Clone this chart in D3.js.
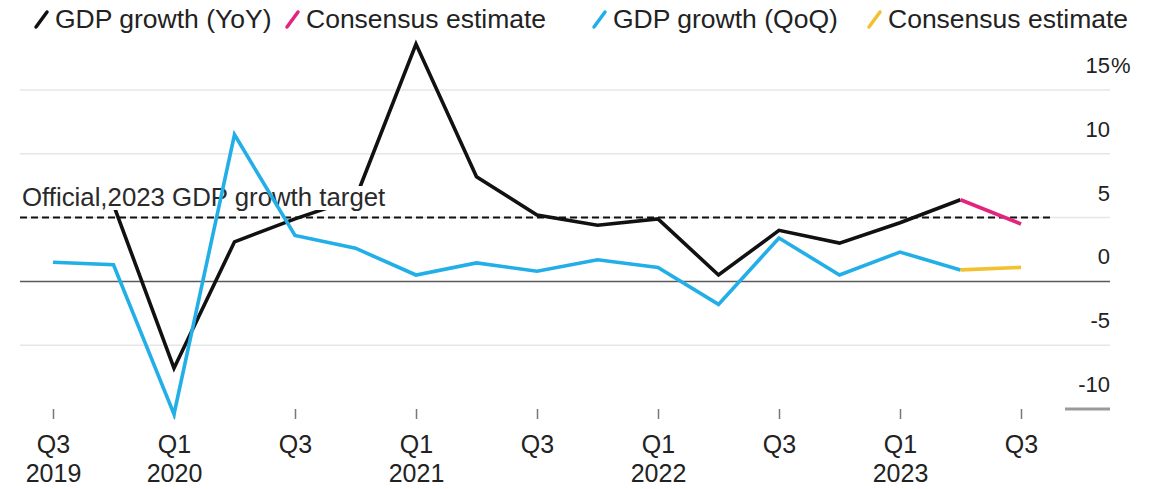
<!DOCTYPE html>
<html>
<head>
<meta charset="utf-8">
<script src="https://cdn.jsdelivr.net/npm/d3@7"></script>
<style>
  html, body { margin: 0; padding: 0; background: #fff; }
  svg { display: block; font-family: "Liberation Sans", Arial, Helvetica, sans-serif; }
</style>
</head>
<body>
<svg id="chart" width="1163" height="489"></svg>
<script>
// Quarters from Q3 2019 to Q3 2023
const quarters = ["2019Q3","2019Q4","2020Q1","2020Q2","2020Q3","2020Q4","2021Q1","2021Q2","2021Q3","2021Q4","2022Q1","2022Q2","2022Q3","2022Q4","2023Q1","2023Q2","2023Q3"];

// Year-on-year growth, % (starts at Q4 2019)
const yoyQuarters = ["2019Q4","2020Q1","2020Q2","2020Q3","2020Q4","2021Q1","2021Q2","2021Q3","2021Q4","2022Q1","2022Q2","2022Q3","2022Q4","2023Q1","2023Q2"];
const yoyValues   = [6.0, -6.8, 3.1, 4.9, 6.5, 18.6, 8.2, 5.2, 4.4, 4.9, 0.5, 4.0, 3.0, 4.6, 6.4];

// Consensus estimate for year-on-year growth
const yoyEstQuarters = ["2023Q2","2023Q3"];
const yoyEstValues   = [6.4, 4.5];

// Quarter-on-quarter growth, %
const qoqQuarters = ["2019Q3","2019Q4","2020Q1","2020Q2","2020Q3","2020Q4","2021Q1","2021Q2","2021Q3","2021Q4","2022Q1","2022Q2","2022Q3","2022Q4","2023Q1","2023Q2"];
const qoqValues   = [1.5, 1.3, -10.4, 11.5, 3.6, 2.6, 0.5, 1.45, 0.8, 1.7, 1.1, -1.8, 3.4, 0.5, 2.3, 0.9];

// Consensus estimate for quarter-on-quarter growth
const qoqEstQuarters = ["2023Q2","2023Q3"];
const qoqEstValues   = [0.9, 1.1];

// Official target
const targetValue = 5.0;
const targetLabel = "Official,2023 GDP growth target";

// Axis ticks
const yTicks = [-10, -5, 0, 5, 10, 15];
const xTickQuarters = ["2019Q3","2020Q1","2020Q3","2021Q1","2021Q3","2022Q1","2022Q3","2023Q1","2023Q3"];
const xTickTop    = ["Q3","Q1","Q3","Q1","Q3","Q1","Q3","Q1","Q3"];
const xTickBottom = ["2019","2020","","2021","","2022","","2023",""];

// Legend entries
const legendLabels = ["GDP growth (YoY)", "Consensus estimate", "GDP growth (QoQ)", "Consensus estimate"];
const legendColors = ["#111111", "#e3247f", "#22afe8", "#f2c12e"];
const legendX = [55, 306, 613, 888];

const svg = d3.select("#chart");

const x = d3.scalePoint().domain(quarters).range([53, 1021]);
const y = d3.scaleLinear().domain([-10, 15]).range([409, 90]);

const gridLeft = 20, gridRight = 1110;

// Horizontal gridlines
svg.append("g")
  .selectAll("line")
  .data(yTicks.filter(d => d !== 0 && d !== -10))
  .join("line")
  .attr("x1", gridLeft).attr("x2", gridRight)
  .attr("y1", d => y(d)).attr("y2", d => y(d))
  .attr("stroke", "#e6e6e6").attr("stroke-width", 1.5);

// Bottom axis marker at -10
svg.append("line")
  .attr("x1", 1065).attr("x2", gridRight)
  .attr("y1", y(-10)).attr("y2", y(-10))
  .attr("stroke", "#9a9a9a").attr("stroke-width", 3);

// Zero line
svg.append("line")
  .attr("x1", gridLeft).attr("x2", gridRight)
  .attr("y1", y(0)).attr("y2", y(0))
  .attr("stroke", "#5a5a5a").attr("stroke-width", 1.5);

// Right-hand value labels
const yAxis = d3.axisRight(y).tickValues(yTicks).tickSize(0).tickPadding(0)
  .tickFormat(d => d);
const yAxisG = svg.append("g").attr("transform", `translate(${gridRight},0)`).call(yAxis);
yAxisG.select(".domain").remove();
yAxisG.selectAll("text")
  .attr("text-anchor", "end")
  .attr("x", 0)
  .attr("dy", "-0.8em")
  .attr("font-size", 22)
  .attr("font-family", "Liberation Sans, Arial, sans-serif")
  .attr("fill", "#222");
yAxisG.selectAll(".tick").filter(d => d === 15).append("text")
  .text("%")
  .attr("x", 1)
  .attr("dy", "-0.8em")
  .attr("text-anchor", "start")
  .attr("font-size", 22)
  .attr("fill", "#222");

// Bottom quarter ticks and labels
const xAxis = d3.axisBottom(x).tickValues(xTickQuarters).tickSize(10).tickPadding(0).tickFormat("");
const xAxisG = svg.append("g").attr("transform", "translate(0,409)").call(xAxis);
xAxisG.select(".domain").remove();
xAxisG.selectAll(".tick line").attr("stroke", "#777").attr("stroke-width", 1.5);
xAxisG.selectAll(".tick").each(function(d, i) {
  const g = d3.select(this);
  g.append("text").text(xTickTop[i])
    .attr("y", 44).attr("text-anchor", "middle")
    .attr("font-size", 25).attr("fill", "#222");
  g.append("text").text(xTickBottom[i])
    .attr("y", 73).attr("text-anchor", "middle")
    .attr("font-size", 25).attr("fill", "#222");
});

// Target line
svg.append("line")
  .attr("x1", gridLeft).attr("x2", 1050)
  .attr("y1", y(targetValue)).attr("y2", y(targetValue))
  .attr("stroke", "#111").attr("stroke-width", 2)
  .attr("stroke-dasharray", "7,4");

const line = d3.line().x(d => x(d[0])).y(d => y(d[1]));
const zip = (a, b) => a.map((q, i) => [q, b[i]]);

function drawSeries(qs, vs, color) {
  svg.append("path")
    .datum(zip(qs, vs))
    .attr("d", line)
    .attr("fill", "none")
    .attr("stroke", color)
    .attr("stroke-width", 3.6)
    .attr("stroke-linejoin", "miter");
}

// Year-on-year series and estimate
drawSeries(yoyQuarters, yoyValues, legendColors[0]);
drawSeries(yoyEstQuarters, yoyEstValues, legendColors[1]);

// Target annotation with white backing
const ann = svg.append("g");
const annText = ann.append("text")
  .attr("x", 22).attr("y", 206)
  .attr("font-size", 25.8)
  .attr("fill", "#2a2a2a")
  .text(targetLabel);
const bb = annText.node().getBBox();
ann.insert("rect", "text")
  .attr("x", bb.x).attr("y", bb.y + 3)
  .attr("width", bb.width).attr("height", bb.height - 4)
  .attr("fill", "#fff");

// Quarter-on-quarter series and estimate
drawSeries(qoqQuarters, qoqValues, legendColors[2]);
drawSeries(qoqEstQuarters, qoqEstValues, legendColors[3]);

// Legend
const leg = svg.append("g");
legendLabels.forEach((lab, i) => {
  const g = leg.append("g").attr("transform", `translate(${legendX[i]},0)`);
  g.append("line")
    .attr("x1", -19).attr("y1", 27).attr("x2", -8).attr("y2", 12)
    .attr("stroke", legendColors[i]).attr("stroke-width", 3.5)
    .attr("stroke-linecap", "round");
  g.append("text")
    .attr("x", 0).attr("y", 28)
    .attr("font-size", 26.5)
    .attr("fill", "#222")
    .text(lab);
});
</script>
</body>
</html>
